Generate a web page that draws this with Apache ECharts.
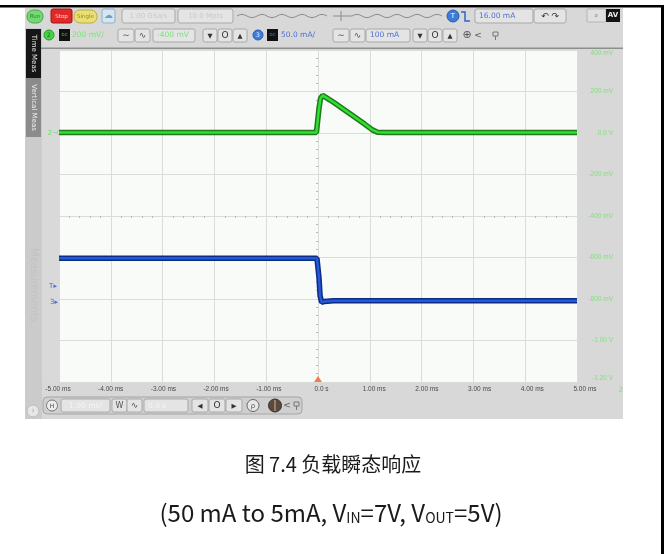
<!DOCTYPE html>
<html>
<head>
<meta charset="utf-8">
<script src="https://cdn.jsdelivr.net/npm/echarts@6/dist/echarts.min.js"></script>
<style>
html,body{margin:0;padding:0;background:#fff}
#chart{width:666px;height:554px}
</style>
</head>
<body>
<div id="chart"></div>
<script>
// Horizontal scale: 1.00 ms/div
const timeTicks = [-5, -4, -3, -2, -1, 0, 1, 2, 3, 4, 5];
const timeLabels = ['-5.00 ms', '-4.00 ms', '-3.00 ms', '-2.00 ms', '-1.00 ms', '0.0 s',
  '1.00 ms', '2.00 ms', '3.00 ms', '4.00 ms', '5.00 ms'];

// Channel 2 scale: 200 mV/div
const voltTicks = [400, 200, 0, -200, -400, -600, -800, -1000, -1200];
const voltLabels = ['400 mV', '200 mV', '0.0 V', '-200 mV', '-400 mV', '-600 mV', '-800 mV', '-1.00 V', '-1.20 V'];

// Channel 3 scale: 50.0 mA/div, offset 100 mA
const ampMin = -100;
const ampMax = 300;

// Channel 2: output voltage, AC coupled (time in ms, value in mV)
const vTime = [-5, -4, -3, -2, -1, -0.03, 0, 0.02, 0.05, 0.09, 0.15, 0.3, 0.5, 0.7, 0.9, 1.05, 1.15, 1.3, 2, 3, 4, 5];
const vOut  = [ 3,  3,  3,  3,  3,   3,   12, 120, 168, 181, 172, 148, 113, 78,  43,  15,  4,   2,   2, 2, 2, 2];

// Channel 3: load current (time in ms, value in mA)
const iTime = [-5, -4, -3, -2, -1, -0.02, 0, 0.02, 0.04, 0.07, 0.12, 0.3, 1, 2, 3, 4, 5];
const iLoad = [49, 49, 49, 49, 49, 49,   47, 25, 4,   -4,  -3,   -2,  -2, -2, -2, -2, -2];

// Trigger position
const triggerTime = [0];

const UI_FONT = 'DejaVu Sans';

function rect(x, y, w, h, fill, stroke, r, z) {
  return { type: 'rect', silent: true, z: z == null ? 1 : z,
    shape: { x: x, y: y, width: w, height: h, r: r || 0 },
    style: { fill: fill, stroke: stroke || null, lineWidth: 1 } };
}
function circle(cx, cy, r, fill, stroke, z) {
  return { type: 'circle', silent: true, z: z == null ? 2 : z,
    shape: { cx: cx, cy: cy, r: r }, style: { fill: fill, stroke: stroke || null, lineWidth: 1 } };
}
function label(x, y, s, fill, size, align, extra) {
  const el = { type: 'text', silent: true, z: 5, x: x, y: y,
    style: { text: s, fill: fill, fontSize: size, fontFamily: UI_FONT,
      align: align || 'left', verticalAlign: 'middle' } };
  if (extra) {
    if (extra.style) Object.assign(el.style, extra.style);
    if (extra.rotation != null) el.rotation = extra.rotation;
  }
  return el;
}
function poly(points, stroke, width, z) {
  return { type: 'polyline', silent: true, z: z == null ? 3 : z,
    shape: { points: points }, style: { stroke: stroke, lineWidth: width || 1, fill: null } };
}
// squiggle icon of the horizontal position bar, built from half-wave curves
function squiggle(x0, x1, y, period, amp) {
  const els = [];
  let up = true;
  for (let x = x0; x + period / 2 <= x1; x += period / 2) {
    els.push({ type: 'bezierCurve', silent: true, z: 3,
      shape: { x1: x, y1: y, x2: x + period / 2, y2: y,
        cpx1: x + period / 4, cpy1: up ? y - amp * 2 : y + amp * 2 },
      style: { stroke: '#8c8c8c', lineWidth: 1, fill: null } });
    up = !up;
  }
  return els;
}
function btn(x, y, w, h, s, color, size) {
  return [rect(x, y, w, h, '#e4e4e4', '#a9a9a9', 2, 2),
    label(x + w / 2, y + h / 2 + 0.5, s, color || '#555', size || 8, 'center')];
}

const chrome = [];
// outer frame of the figure cell
chrome.push(rect(0, 5, 664, 2.5, '#000', null, 0, 20));
chrome.push(rect(661, 5, 3, 549, '#000', null, 0, 20));

// instrument screen background
chrome.push(rect(25, 8, 598, 411, '#d8d8d8', null, 0, -10));
chrome.push(rect(25, 28, 17, 391, '#cbcbcb', null, 0, -9));
chrome.push(rect(42, 48, 16, 334, '#d9d9d9', null, 0, -9));
chrome.push(rect(59, 50, 518, 332, '#f9fbf9', null, 0, -8));
chrome.push(rect(41, 47.5, 582, 1.5, '#8e8e8e', null, 0, 4));

// side tabs
chrome.push(rect(26, 29, 15, 49, '#161616', null, 0, 3));
chrome.push(label(33.5, 53.5, 'Time Meas', '#e8e8e8', 7, 'center', { rotation: -Math.PI / 2 }));
chrome.push(rect(26, 78, 15, 59, '#8b8b8b', null, 0, 3));
chrome.push(label(33.5, 107.5, 'Vertical Meas', '#f0f0f0', 7, 'center', { rotation: -Math.PI / 2 }));
chrome.push(label(33.5, 285, 'Measurements', '#c2c2c2', 10, 'center', { rotation: -Math.PI / 2 }));

// run control row
chrome.push(rect(27, 10, 16, 13, '#72d872', '#4aa84a', 6, 2));
chrome.push(label(35, 16.5, 'Run', '#2f7f2f', 5.5, 'center'));
chrome.push(rect(51, 9, 21, 14, '#e02a2a', '#a81010', 2, 2));
chrome.push(label(61.5, 16.5, 'Stop', '#ffd0d0', 5.5, 'center'));
chrome.push(rect(74, 10, 23, 13, '#e9df72', '#b8ae40', 6, 2));
chrome.push(label(85.5, 16.5, 'Single', '#9a8a20', 5.5, 'center'));
chrome.push(rect(102, 9, 13, 14, '#d6e6f0', '#8fb0c8', 2, 2));
chrome.push(label(108.5, 16, '☁', '#6f9fc4', 9, 'center'));
chrome.push(...btn(122, 9, 53, 14, '1.00 GSa/s', '#c9c9c9', 7));
chrome.push(...btn(178, 9, 55, 14, '10.0 Mpts', '#c9c9c9', 7));
chrome.push(...squiggle(237, 333, 16, 20, 1.6));
chrome.push(poly([[333, 16], [352, 16]], '#8c8c8c', 1));
chrome.push(poly([[341, 11], [341, 21]], '#8c8c8c', 1));
chrome.push(...squiggle(352, 446, 16, 20, 1.6));
chrome.push(circle(453, 16, 6, '#3b7bd9', '#2a5aa8'));
chrome.push(label(453, 16.5, 'T', '#fff', 7, 'center'));
chrome.push(poly([[461, 12], [465, 12], [465, 21], [470, 21]], '#2d64c8', 1.5));
chrome.push(...btn(475, 9, 58, 14, '', '#5a7ad8', 7));
chrome.push(label(479, 16.5, '16.00 mA', '#4d6fd3', 7.5, 'left'));
chrome.push(...btn(534, 9, 32, 14, '↶ ↷', '#333', 9));
chrome.push(rect(587, 9, 19, 13, '#e0e0e0', '#b5b5b5', 1, 2));
chrome.push(label(596, 15.5, '⌕', '#9a9a9a', 8, 'center'));
chrome.push(rect(606, 9, 14, 13, '#141414', null, 0, 2));
chrome.push(label(613, 15.5, 'AV', '#f2f2f2', 7, 'center', { style: { fontWeight: 'bold' } }));

// channel row
chrome.push(circle(49, 35, 5, '#46d446', '#2b962b'));
chrome.push(label(49, 35.5, '2', '#1d5f1d', 6, 'center'));
chrome.push(rect(59, 29, 11, 12, '#111', null, 0, 2));
chrome.push(label(64.5, 35, 'DC', '#54c854', 4, 'center'));
chrome.push(label(72, 35.5, '200 mV/', '#7ee07e', 7.5, 'left'));
chrome.push(...btn(118, 29, 16, 13, '∼', '#555', 9));
chrome.push(...btn(135, 29, 15, 13, '∿', '#555', 9));
chrome.push(...btn(153, 29, 42, 13, '', '#7ee07e', 7));
chrome.push(label(157, 35.5, '-400 mV', '#7ee07e', 7.5, 'left'));
chrome.push(...btn(203, 29, 14, 13, '▼', '#333', 6.5));
chrome.push(...btn(218, 29, 14, 13, 'O', '#333', 9));
chrome.push(...btn(233, 29, 14, 13, '▲', '#333', 6.5));
chrome.push(circle(258, 35, 5, '#3c7ee0', '#2a5aa8'));
chrome.push(label(258, 35.5, '3', '#e6eeff', 6, 'center'));
chrome.push(rect(267, 29, 11, 12, '#111', null, 0, 2));
chrome.push(label(272.5, 35, 'DC', '#5a80e0', 4, 'center'));
chrome.push(label(281, 35.5, '50.0 mA/', '#4d6fd3', 7.5, 'left'));
chrome.push(...btn(333, 29, 16, 13, '∼', '#555', 9));
chrome.push(...btn(350, 29, 15, 13, '∿', '#555', 9));
chrome.push(...btn(366, 29, 44, 13, '', '#4d6fd3', 7));
chrome.push(label(370, 35.5, '100 mA', '#4d6fd3', 7.5, 'left'));
chrome.push(...btn(413, 29, 14, 13, '▼', '#333', 6.5));
chrome.push(...btn(428, 29, 14, 13, 'O', '#333', 9));
chrome.push(...btn(443, 29, 14, 13, '▲', '#333', 6.5));
chrome.push(label(467, 35.5, '⊕', '#555', 11, 'center'));
chrome.push(label(478, 35.5, '<', '#555', 9, 'center'));
chrome.push(rect(493, 32, 5, 4, null, '#777', 0, 3));
chrome.push(poly([[495.5, 36], [495.5, 40]], '#777', 1));

// channel ground and trigger markers at the left edge of the graticule
chrome.push(label(53, 133, '2⊣', '#6cd96c', 7, 'center'));
chrome.push(label(53, 286, 'T▸', '#3c6fd6', 7, 'center'));
chrome.push(label(54, 302, '3▸', '#3c6fd6', 7, 'center'));

// horizontal control row
chrome.push(circle(33, 411, 6, '#e6e6e6', '#bdbdbd', 1));
chrome.push(label(33, 411, '›', '#aaa', 8, 'center'));
chrome.push(rect(43, 397, 259, 17, '#cfcfcf', '#a5a5a5', 4, 1));
chrome.push(circle(52, 405.5, 5.5, '#ededed', '#777'));
chrome.push(label(52, 406, 'H', '#444', 6, 'center'));
chrome.push(...btn(61, 399, 49, 13, '1.00 ms/', '#f4f4f4', 7.5));
chrome.push(...btn(112, 399, 15, 13, 'W', '#555', 8));
chrome.push(...btn(127, 399, 15, 13, '∿', '#555', 9));
chrome.push(...btn(144, 399, 44, 13, '', '#f4f4f4', 7.5));
chrome.push(label(148, 406, '0.0 s', '#f4f4f4', 7.5, 'left'));
chrome.push(...btn(192, 399, 16, 13, '◀', '#333', 6.5));
chrome.push(...btn(209, 399, 16, 13, 'O', '#333', 9));
chrome.push(...btn(226, 399, 16, 13, '▶', '#333', 6.5));
chrome.push(circle(253, 405.5, 6, '#e8e8e8', '#666'));
chrome.push(label(253, 406, 'ρ', '#555', 7, 'center'));
chrome.push(circle(275, 405.5, 6.5, '#5b4a3c', '#3a2e24'));
chrome.push(poly([[275, 400], [275, 411]], '#c8b8a0', 1, 4));
chrome.push(label(287, 406, '<', '#555', 9, 'center'));
chrome.push(rect(294, 402, 5, 4, null, '#777', 0, 3));
chrome.push(poly([[296.5, 406], [296.5, 410]], '#777', 1));
chrome.push(label(621, 390, '2', '#7ee07e', 7, 'center'));

// figure caption
chrome.push({ type: 'text', silent: true, z: 10, x: 333, y: 464,
  style: { text: '图 7.4 负载瞬态响应', fill: '#1a1a1a', fontSize: 20,
    fontFamily: 'Noto Sans CJK SC', align: 'center', verticalAlign: 'middle' } });
chrome.push({ type: 'text', silent: true, z: 10, x: 331, y: 510,
  style: {
    text: '{n|(50 mA to 5mA, V}{s|IN}{n|=7V, V}{s|OUT}{n|=5V)}',
    align: 'center', verticalAlign: 'middle',
    rich: {
      n: { fontSize: 24, fontFamily: 'Noto Sans CJK SC', fill: '#1a1a1a', lineHeight: 30, verticalAlign: 'bottom' },
      s: { fontSize: 14, fontFamily: 'Noto Sans CJK SC', fill: '#1a1a1a', lineHeight: 30, verticalAlign: 'bottom' }
    }
  } });

const pairs = (xs, ys) => xs.map((x, i) => [x, ys[i]]);

const chart = echarts.init(document.getElementById('chart'), null, { renderer: 'canvas' });
chart.setOption({
  animation: false,
  backgroundColor: '#ffffff',
  grid: [
    { left: 59, top: 50, width: 518, height: 332, show: false },
    { left: 58, top: 50, width: 527, height: 332, show: false }
  ],
  xAxis: [
    { type: 'value', gridIndex: 0, min: -5, max: 5, interval: 1,
      axisLine: { show: false }, axisTick: { show: false }, axisLabel: { show: false },
      splitLine: { show: true, lineStyle: { color: '#d9dcd9', width: 1 } } },
    { type: 'value', gridIndex: 1, min: -5, max: 5, interval: 1,
      axisLine: { show: false }, axisTick: { show: false }, splitLine: { show: false },
      axisLabel: { margin: 4, fontSize: 6.5, color: '#4a4a4a', fontFamily: 'Liberation Sans',
        formatter: v => timeLabels[timeTicks.indexOf(Math.round(v))] } },
    { type: 'value', gridIndex: 0, min: -5, max: 5, interval: 1, position: 'bottom', offset: -166,
      axisLine: { show: false }, axisLabel: { show: false }, splitLine: { show: false },
      axisTick: { show: false },
      minorTick: { show: true, splitNumber: 5, length: 2, lineStyle: { color: '#b8bbb8' } } }
  ],
  yAxis: [
    { type: 'value', gridIndex: 0, min: -1200, max: 400, interval: 200, position: 'right',
      axisLine: { show: false }, axisTick: { show: false },
      splitLine: { show: true, lineStyle: { color: '#d9dcd9', width: 1 } },
      axisLabel: { margin: 36, align: 'right', fontSize: 6.5, color: '#7fdf7f', fontFamily: 'Liberation Sans',
        verticalAlignMaxLabel: 'top', verticalAlignMinLabel: 'bottom',
        formatter: v => voltLabels[voltTicks.indexOf(Math.round(v))] } },
    { type: 'value', gridIndex: 0, min: ampMin, max: ampMax, show: false },
    { type: 'value', gridIndex: 0, min: -1200, max: 400, interval: 200, position: 'left', offset: -259,
      axisLine: { show: false }, axisLabel: { show: false }, splitLine: { show: false },
      axisTick: { show: false },
      minorTick: { show: true, splitNumber: 5, length: 2, lineStyle: { color: '#b8bbb8' } } },
    { type: 'value', gridIndex: 1, show: false }
  ],
  graphic: chrome,
  series: [
    { type: 'line', xAxisIndex: 0, yAxisIndex: 0, data: pairs(vTime, vOut), showSymbol: false, z: 3,
      lineStyle: { width: 5.5, color: '#1f7a1f' } },
    { type: 'line', xAxisIndex: 0, yAxisIndex: 0, data: pairs(vTime, vOut), showSymbol: false, z: 4,
      lineStyle: { width: 2.5, color: '#2fe02f' } },
    { type: 'line', xAxisIndex: 0, yAxisIndex: 1, data: pairs(iTime, iLoad), showSymbol: false, z: 3,
      lineStyle: { width: 5.5, color: '#0c2c84' } },
    { type: 'line', xAxisIndex: 0, yAxisIndex: 1, data: pairs(iTime, iLoad), showSymbol: false, z: 4,
      lineStyle: { width: 2.5, color: '#2358d8' } },
    { type: 'scatter', xAxisIndex: 0, yAxisIndex: 0, z: 5,
      data: triggerTime.map(t => [t, -1200]),
      symbol: 'triangle', symbolSize: [8, 6], symbolOffset: [0, -3],
      itemStyle: { color: '#f0602a' } }
  ]
});
</script>
</body>
</html>
